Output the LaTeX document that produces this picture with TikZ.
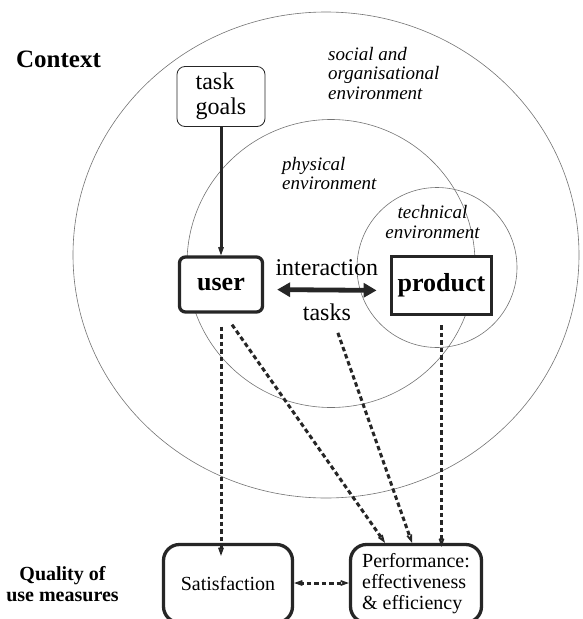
\documentclass[tikz,border=0pt]{standalone}
\usepackage{fontspec}
\setmainfont{Liberation Serif}
\usetikzlibrary{arrows.meta}

\begin{document}
\begin{tikzpicture}[x=1pt,y=-1pt,
    >={Stealth[length=15pt,width=11pt,inset=9pt]},
    ring/.style={draw=black!55,line width=0.6pt},
    env/.style={font=\fontsize{19}{19.5}\selectfont\itshape,inner sep=0pt},
    box/.style={draw=black!85,fill=white,line width=3.3pt,font=\fontsize{26}{28}\selectfont\bfseries},
    measure/.style={draw=black!85,fill=white,line width=3.3pt,rounded corners=16pt,
      minimum width=129pt,minimum height=78pt,font=\fontsize{20}{21}\selectfont},
    flow/.style={->,draw=black!85,line width=3pt,dash pattern=on 4.5pt off 3pt},
    lbl/.style={font=\fontsize{24}{25}\selectfont}]
  \useasboundingbox (0,0) rectangle (582,619);
  \clip (0,0) rectangle (582,619);
  \draw[ring] (326,255) ellipse [x radius=253, y radius=243];
  \draw[ring] (331,263.5) circle [radius=144];
  \draw[ring] (437,267.5) circle [radius=80];

  \node[font=\fontsize{25}{27}\selectfont\bfseries] (context) at (58.5,59) {Context};
  \node[env,anchor=north west,align=left] (social) at (328,47) {social and\\organisational\\environment};
  \node[env,anchor=north west,align=left] (physical) at (282,157) {physical\\environment};
  \node[env,align=center] (technical) at (432.5,222) {technical\\environment};

  \node[draw=black!85,fill=white,line width=0.8pt,rounded corners=8pt,minimum width=88pt,
    minimum height=60pt,align=left,font=\fontsize{24}{25}\selectfont] (goals) at (221,96.5) {task\\goals};
  \node[box,rounded corners=6pt,minimum width=83pt,minimum height=55pt] (user) at (221,284.5) {user};
  \node[box,line width=3.8pt,minimum width=100pt,minimum height=58pt] (product) at (441.5,285.5) {product};
  \node[measure] (sat) at (228,583.5) {Satisfaction};
  \node[measure,minimum width=131pt,align=left] (perf) at (416,583.5) {Performance:\\effectiveness\\\& efficiency};
  \node[font=\fontsize{20}{21}\selectfont\bfseries,align=center] (quality) at (62.5,584) {Quality of\\use measures};

  \draw[->,draw=black!85,line width=3pt] (goals) -- (user);
  \draw[>={Triangle[length=13pt,width=14pt]},<->,draw=black!85,line width=4.8pt,shorten <=13pt,shorten >=13pt]
    ([yshift=-5pt]user.east) -- ([yshift=-5pt]product.west)
    node[lbl,midway,above=9pt] (interaction) {interaction}
    node[lbl,midway,below=8pt] (tasks) {tasks};

  \draw[flow] ([yshift=-13pt]user.south) -- ([yshift=-13pt]user.south |- sat.north);
  \draw[flow] ([xshift=11pt,yshift=-11pt]user.south) -- ([xshift=-31pt]perf.north);
  \draw[flow] ([xshift=11pt,yshift=-6.5pt]tasks.south) -- ([xshift=-4pt]perf.north);
  \draw[flow,shorten >=5pt] ([yshift=-9pt]product.south) -- ([yshift=-9pt]product.south |- perf.north);
  \draw[flow,<->] ([yshift=0.5pt]sat.east) -- ([yshift=0.5pt]perf.west);
\end{tikzpicture}
\end{document}
